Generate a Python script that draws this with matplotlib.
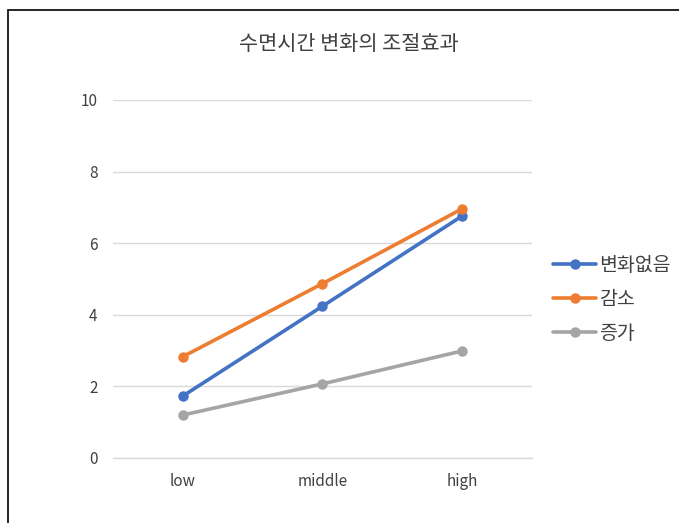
import matplotlib.pyplot as plt
from matplotlib.patches import Rectangle

plt.rcParams['font.family'] = ['Noto Sans CJK KR', 'DejaVu Sans']

categories = ["low", "middle", "high"]
no_change = [1.73, 4.24, 6.76]
decrease = [2.83, 4.87, 6.96]
increase = [1.2, 2.07, 2.99]
series_names = ["변화없음", "감소", "증가"]
colors = ["#4472C4", "#ED7D31", "#A5A5A5"]

fig = plt.figure(figsize=(6.79, 5.23), dpi=100)
ax = fig.add_axes([0.1664, 0.1243, 0.617, 0.6845])

x = range(len(categories))
for vals, name, c in zip([no_change, decrease, increase], series_names, colors):
    ax.plot(x, vals, color=c, lw=2.6, marker="o", markersize=6.5, label=name,
            solid_capstyle="round")

ax.set_xlim(-0.5, 2.5)
ax.set_ylim(0, 10)
ax.set_yticks(range(0, 11, 2))
ax.set_xticks(list(x))
ax.set_xticklabels(categories)
ax.grid(axis="y", color="#D9D9D9", lw=1)
ax.axhline(0, color="#D9D9D9", lw=1, clip_on=False, zorder=0.5)
ax.set_axisbelow(True)
for s in ax.spines.values():
    s.set_visible(False)
ax.tick_params(length=0, labelsize=11, colors="#404040")
ax.tick_params(axis="y", pad=11)
ax.tick_params(axis="x", pad=11)

fig.text(0.514, 0.915, "수면시간 변화의 조절효과", ha="center", va="center",
         fontsize=15, color="#404040")

leg = fig.legend(loc="center left", bbox_to_anchor=(0.789, 0.428), frameon=False,
                 fontsize=14, handlelength=2.2, handletextpad=0.15, labelspacing=0.67)
for t in leg.get_texts():
    t.set_color("#404040")

fig.patches.append(Rectangle((8 / 679, -0.1), 1.2, 1 - 10 / 523 + 0.1,
                             transform=fig.transFigure, fill=False,
                             edgecolor="black", lw=1.2))

fig.savefig("out.png", dpi=100)
